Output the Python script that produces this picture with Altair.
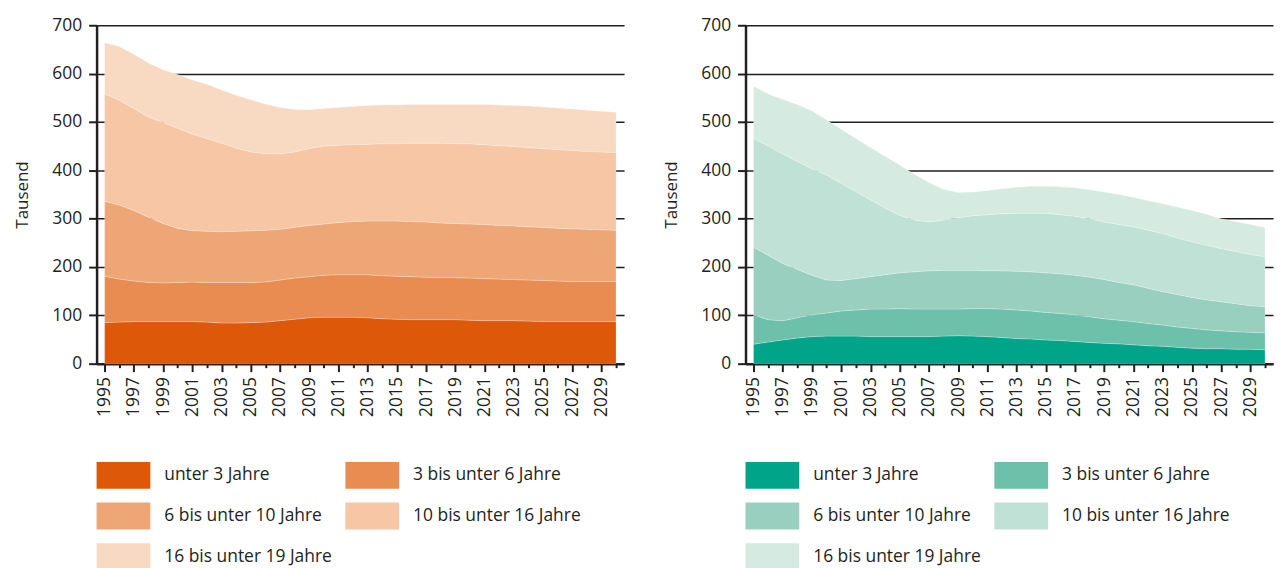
import altair as alt
import pandas as pd

years = list(range(1995, 2031))
groups = ["unter 3 Jahre", "3 bis unter  6 Jahre", "6 bis unter 10 Jahre",
          "10 bis unter  16 Jahre", "16 bis unter  19 Jahre"]

# left panel (orange), thousands
left_u3 = [85, 86, 87, 87, 87, 87, 87, 86, 84, 84, 85, 86, 89, 92, 95, 96, 96, 96,
           95, 93, 92, 91, 91, 91, 91, 90, 89, 89, 89, 88, 87, 87, 87, 87, 87, 87]
left_3_6 = [96, 89, 84, 81, 80, 81, 82, 82, 84, 84, 83, 83, 84, 85, 85, 87, 88, 88,
            89, 89, 89, 89, 88, 87, 87, 87, 87, 86, 85, 85, 85, 84, 83, 83, 83, 83]
left_6_10 = [155, 153, 146, 135, 123, 112, 106, 106, 105, 106, 107, 107, 105, 105, 106, 106, 108, 110,
             111, 113, 114, 114, 114, 113, 112, 112, 112, 111, 111, 110, 110, 109, 109, 108, 107, 106]
left_10_16 = [222, 217, 211, 207, 209, 207, 200, 192, 183, 172, 163, 158, 156, 156, 159, 161, 160, 159,
              159, 160, 160, 162, 163, 165, 165, 166, 165, 165, 164, 164, 163, 163, 162, 161, 161, 161]
left_16_19 = [106, 111, 112, 112, 109, 111, 112, 112, 110, 109, 108, 103, 96, 88, 80, 78, 78, 79,
              80, 80, 80, 80, 80, 80, 81, 81, 83, 84, 85, 86, 86, 86, 86, 85, 84, 83]

# right panel (green), thousands
right_u3 = [40, 45, 49, 53, 56, 57, 57, 57, 56, 56, 56, 56, 56, 57, 58, 57, 56, 54,
            52, 51, 49, 48, 46, 44, 42, 41, 39, 37, 36, 34, 32, 31, 31, 30, 30, 29]
right_3_6 = [61, 46, 40, 42, 45, 48, 52, 54, 57, 57, 58, 57, 57, 56, 55, 57, 58, 59,
             59, 58, 57, 56, 55, 53, 51, 49, 48, 46, 44, 42, 41, 39, 37, 36, 35, 35]
right_6_10 = [140, 133, 118, 100, 82, 68, 63, 65, 67, 71, 74, 77, 79, 80, 80, 79, 78, 79,
              80, 81, 82, 82, 82, 82, 81, 78, 76, 73, 69, 67, 64, 62, 60, 58, 55, 54]
right_10_16 = [225, 226, 227, 223, 220, 217, 201, 180, 159, 138, 119, 107, 101, 104, 109, 113, 116, 118,
               120, 121, 123, 122, 122, 121, 119, 120, 120, 120, 120, 117, 115, 113, 110, 108, 106, 103]
right_16_19 = [108, 108, 113, 118, 120, 114, 112, 110, 108, 107, 104, 95, 82, 64, 52, 49, 50, 52,
               54, 56, 56, 58, 59, 60, 62, 62, 61, 61, 62, 64, 65, 64, 62, 62, 62, 60]

colors_left = ["#DD5809", "#E98C51", "#EFA677", "#F6C6A5", "#F8D9C2"]
colors_right = ["#00A589", "#6DC0A9", "#98CFBF", "#BFE1D6", "#D5EBE2"]

odd_years = [y for y in years if y % 2 == 1]
even_years = [y for y in years if y % 2 == 0]
y_ticks = list(range(0, 701, 100))

FONT = "Open Sans"
TXT = "#231f20"


def long_df(series):
    rows = []
    for idx, (g, vals) in enumerate(zip(groups, series)):
        for yr, v in zip(years, vals):
            rows.append({"year": yr, "group": g, "idx": idx, "value": v})
    return pd.DataFrame(rows)


rect_path = "M-1,-0.5H1V0.5H-1Z"


def panel(df, colors):
    xscale = alt.Scale(domain=[1994.45, 2030.55], nice=False, zero=False)
    yscale = alt.Scale(domain=[0, 700], nice=False)
    yaxis = alt.Axis(values=y_ticks, grid=True, title="Tausend", tickSize=8,
                     labelPadding=7, titlePadding=20)
    base = alt.Chart(df)
    area = base.mark_area(stroke="white", strokeWidth=0.5, strokeOpacity=0.45).encode(
        x=alt.X("year:Q", scale=xscale,
                axis=alt.Axis(values=odd_years, format="d", labelAngle=-90, tickSize=8,
                              grid=False, title=None, orient="bottom", labelPadding=5)),
        y=alt.Y("value:Q", stack="zero", scale=yscale, axis=yaxis),
        color=alt.Color("group:N", scale=alt.Scale(domain=groups, range=colors),
                        legend=alt.Legend(orient="bottom", columns=2, title=None,
                                          symbolType=rect_path, symbolSize=2916,
                                          symbolStrokeWidth=0, symbolOpacity=1,
                                          labelFont=FONT, labelFontSize=17.5, labelColor=TXT,
                                          labelOffset=14, labelLimit=400,
                                          rowPadding=-12, columnPadding=8,
                                          offset=31)),
        order=alt.Order("idx:Q"),
    )
    minor = base.mark_line(opacity=0).encode(
        x=alt.X("year:Q", scale=xscale,
                axis=alt.Axis(values=even_years, labels=False, tickSize=4, domain=False,
                              grid=False, title=None, orient="bottom")),
        y=alt.Y("value:Q", scale=yscale, axis=yaxis),
        detail="group:N",
    )
    return alt.layer(area, minor).resolve_axis(x="independent").properties(width=530, height=340)


left = panel(long_df([left_u3, left_3_6, left_6_10, left_10_16, left_16_19]), colors_left)
right = panel(long_df([right_u3, right_3_6, right_6_10, right_10_16, right_16_19]), colors_right)

chart = alt.hconcat(left, right, spacing=38).resolve_scale(color="independent").properties(
    padding={"top": 7, "left": 5, "right": 5, "bottom": 5}
).configure_axis(
    labelFont=FONT, labelFontSize=17.5, labelColor=TXT,
    titleFont=FONT, titleFontSize=17, titleFontWeight="normal", titleColor=TXT,
    domainColor=TXT, domainWidth=2.5, tickColor=TXT, tickWidth=2,
    gridColor=TXT, gridWidth=1.5,
).configure_view(stroke=None)

chart.save("out.html", embed_options={"renderer": "svg", "actions": False})
